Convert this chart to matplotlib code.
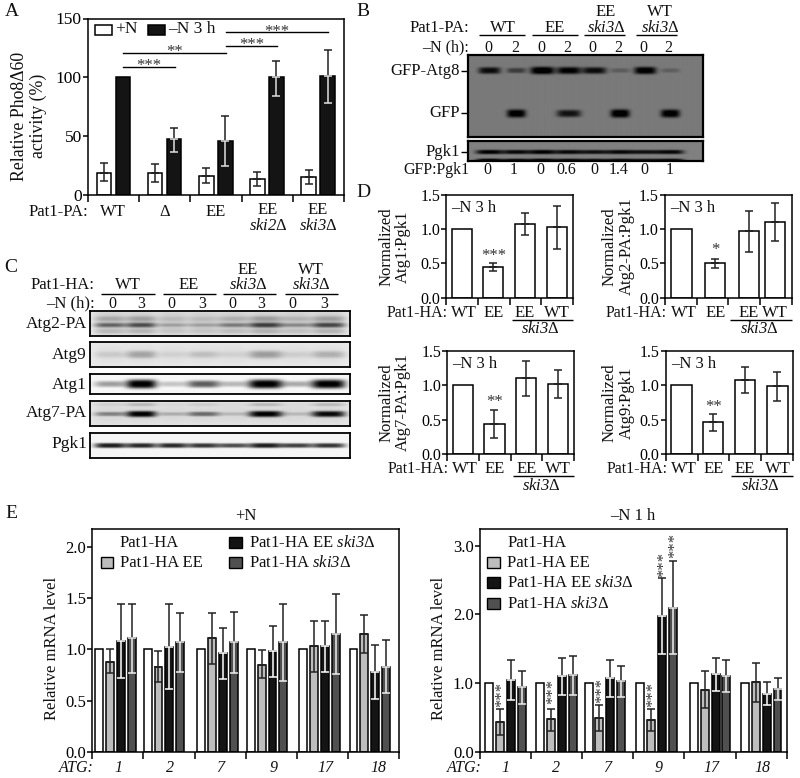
import numpy as np
import matplotlib
matplotlib.use('Agg')
import matplotlib.pyplot as plt
from matplotlib.patches import Rectangle

plt.rcParams['font.family'] = ['Liberation Serif', 'DejaVu Sans']
plt.rcParams['mathtext.fontset'] = 'custom'
plt.rcParams['mathtext.rm'] = 'Liberation Serif:italic'
plt.rcParams['mathtext.it'] = 'Liberation Serif:italic'
plt.rcParams['axes.linewidth'] = 1.1

SKI3 = r'$\mathrm{ski3}$Δ'
SKI2 = r'$\mathrm{ski2}$Δ'
DARK = '#222222'
STAR = '#333333'

# panel A
a_labels = ['WT', 'Δ', 'EE', 'EE\n' + SKI2, 'EE\n' + SKI3]
a_plus = [19, 19, 16.4, 13.8, 15]
a_plus_hi = [26.8, 26, 22.6, 19.2, 21]
a_plus_lo = [11.6, 11, 10, 7.9, 9.6]
a_minus = [100, 47.5, 46.3, 100.3, 101.4]
a_minus_hi = [100, 57, 67.2, 113.8, 123.4]
a_minus_lo = [100, 36.4, 24.9, 84.5, 78.2]

# panel D, one set per blot quantification
d_labels = ['WT', 'EE', 'EE', 'WT']
d_atg1 = [1.0, 0.45, 1.08, 1.03]
d_atg1_hi = [1.0, 0.50, 1.24, 1.34]
d_atg1_lo = [1.0, 0.39, 0.92, 0.71]
d_atg2 = [1.0, 0.50, 0.97, 1.11]
d_atg2_hi = [1.0, 0.57, 1.27, 1.39]
d_atg2_lo = [1.0, 0.43, 0.67, 0.83]
d_atg7 = [1.0, 0.44, 1.10, 1.02]
d_atg7_hi = [1.0, 0.64, 1.36, 1.23]
d_atg7_lo = [1.0, 0.24, 0.85, 0.81]
d_atg9 = [1.0, 0.46, 1.08, 0.99]
d_atg9_hi = [1.0, 0.58, 1.26, 1.19]
d_atg9_lo = [1.0, 0.33, 0.89, 0.77]

# panel E, columns are ATG genes
atg_genes = ['1', '2', '7', '9', '17', '18']
e_wt = [1.0, 1.0, 1.0, 1.0, 1.0, 1.0]
e_n_ee = [0.88, 0.83, 1.11, 0.85, 1.03, 1.15]
e_n_ee_hi = [1.00, 0.98, 1.36, 0.99, 1.28, 1.34]
e_n_ee_lo = [0.77, 0.68, 0.86, 0.72, 0.78, 0.96]
e_n_eeski = [1.08, 1.02, 0.96, 0.98, 1.03, 0.78]
e_n_eeski_hi = [1.44, 1.44, 1.21, 1.23, 1.28, 1.04]
e_n_eeski_lo = [0.72, 0.61, 0.71, 0.73, 0.78, 0.52]
e_n_ski = [1.11, 1.07, 1.07, 1.07, 1.15, 0.83]
e_n_ski_hi = [1.44, 1.36, 1.37, 1.44, 1.54, 1.09]
e_n_ski_lo = [0.77, 0.78, 0.77, 0.69, 0.76, 0.57]

e_s_ee = [0.44, 0.47, 0.49, 0.46, 0.90, 1.01]
e_s_ee_hi = [0.62, 0.62, 0.68, 0.62, 1.18, 1.29]
e_s_ee_lo = [0.25, 0.30, 0.30, 0.30, 0.63, 0.72]
e_s_eeski = [1.05, 1.10, 1.08, 1.98, 1.13, 0.84]
e_s_eeski_hi = [1.33, 1.37, 1.34, 2.53, 1.36, 1.01]
e_s_eeski_lo = [0.75, 0.83, 0.80, 1.43, 0.88, 0.68]
e_s_ski = [0.94, 1.12, 1.03, 2.10, 1.10, 0.92]
e_s_ski_hi = [1.18, 1.40, 1.25, 2.78, 1.33, 1.07]
e_s_ski_lo = [0.69, 0.82, 0.80, 1.42, 0.87, 0.76]

# blot band strengths per lane, 0 nothing, 1 saturated
b_atg8 = [0.80, 0.45, 1.0, 0.9, 0.8, 0.22, 0.95, 0.2]
b_gfp = [0, 0.95, 0, 0.75, 0, 1.0, 0, 0.95]
b_pgk1 = [0.85, 0.8, 0.85, 0.8, 0.75, 0.8, 0.75, 0.8]
b_ratio = ['0', '1', '0', '0.6', '0', '1.4', '0', '1']
c_atg2 = [0.70, 0.85, 0.30, 0.30, 0.55, 0.95, 0.45, 0.90]
c_atg9 = [0.15, 0.40, 0.10, 0.22, 0.10, 0.45, 0.12, 0.32]
c_atg1 = [0.35, 1.0, 0.2, 0.6, 0.25, 1.0, 0.3, 1.0]
c_atg7 = [0.40, 1.0, 0.2, 0.5, 0.15, 1.0, 0.15, 0.95]
c_pgk1 = [0.9, 0.85, 0.85, 0.8, 0.7, 0.9, 0.75, 0.8]

fig = plt.figure(figsize=(8, 7.78), dpi=100)


def box(l, t, r, b, **kw):
    return fig.add_axes([l / 800, 1 - b / 778, (r - l) / 800, (b - t) / 778], **kw)


def bar_err(ax, x, val, hi, lo, color, w, lowcolor=DARK):
    ax.bar(x, val, w, color=color, edgecolor='k', linewidth=1.1, zorder=2)
    for xi, v, h, l in zip(x, val, hi, lo):
        if h > v:
            ax.errorbar(xi, v, yerr=[[0], [h - v]], color=DARK, capsize=2.6,
                        elinewidth=1.1, capthick=1.1, zorder=3)
        if l < v:
            ax.errorbar(xi, v, yerr=[[v - l], [0]], color=lowcolor, capsize=2.6,
                        elinewidth=1.1, capthick=1.1, zorder=3)


def style(ax, n, ylim, yticks, fmt, size, xlen=5.0):
    ax.set_xlim(0, n)
    ax.set_ylim(*ylim)
    ax.set_yticks(yticks)
    ax.set_yticklabels([fmt % t for t in yticks], fontsize=size)
    ax.set_xticks(range(n + 1))
    ax.set_xticklabels([])
    ax.tick_params(axis='y', length=3.5, width=1.1, pad=1)
    ax.tick_params(axis='x', length=xlen, width=1.1)
    ax.patch.set_alpha(0)


def stars(ax, x, y, s='***', rot=0):
    ax.text(x, y, s, ha='center', va='center', fontsize=12, color=STAR,
            rotation=rot, rotation_mode='anchor', zorder=4)


# A
ax = box(88, 18.5, 344, 195)
n = len(a_plus)
x = np.arange(n)
bar_err(ax, x + 0.31, a_plus, a_plus_hi, a_plus_lo, 'white', 0.285)
bar_err(ax, x + 0.68, a_minus, a_minus_hi, a_minus_lo, '#141414', 0.285, lowcolor='#e0e0e0')
style(ax, n, (0, 150), [0, 50, 100, 150], '%d', 12.5)
for x0, x1, yy, s in [(0.69, 1.70, 108.8, '***'), (0.69, 2.69, 121, '**'),
                      (2.69, 3.69, 127, '***'), (2.69, 4.69, 138.4, '***')]:
    ax.plot([x0, x1], [yy, yy], color='k', lw=1.0)
    stars(ax, (x0 + x1) / 2 if s != '**' else 1.7, yy + 0.5, s)

# D
d_sets = [
    ((446.3, 195, 572.7, 297.7), d_atg1, d_atg1_hi, d_atg1_lo, [0.487, 0.49, 0.49, 0.50], 'Atg1:Pgk1', 0.61, '***', 394),
    ((665, 195, 791.7, 297.7), d_atg2, d_atg2_hi, d_atg2_lo, [0.52, 0.59, 0.64, 0.47], 'Atg2-PA:Pgk1', 0.69, '*', 618),
    ((447.3, 351, 574, 454), d_atg7, d_atg7_hi, d_atg7_lo, [0.49, 0.49, 0.49, 0.49], 'Atg7-PA:Pgk1', 0.76, '**', 394),
    ((666, 351, 792.7, 454), d_atg9, d_atg9_hi, d_atg9_lo, [0.49, 0.49, 0.49, 0.52], 'Atg9:Pgk1', 0.68, '**', 618),
]
d_axes = []
for pos, val, hi, lo, off, name, sy, s, lx in d_sets:
    ax = box(*pos)
    bar_err(ax, np.arange(4) + np.array(off), val, hi, lo, 'white', 0.635)
    style(ax, 4, (0, 1.5), [0, 0.5, 1.0, 1.5], '%.1f', 11.5)
    stars(ax, 1 + off[1], sy, s)
    d_axes.append((pos, off, name, lx))

# E
e_sets = [
    ((92.3, 528.7, 399, 751.7), (0, 2.18), [0, 0.5, 1.0, 1.5, 2.0],
     e_n_ee, e_n_ee_hi, e_n_ee_lo, e_n_eeski, e_n_eeski_hi, e_n_eeski_lo,
     e_n_ski, e_n_ski_hi, e_n_ski_lo, [0.137, 0.082, 0.127, 0.101, 0.13, 0.11]),
    ((480, 528.7, 786.7, 751.7), (0, 3.25), [0, 1.0, 2.0, 3.0],
     e_s_ee, e_s_ee_hi, e_s_ee_lo, e_s_eeski, e_s_eeski_hi, e_s_eeski_lo,
     e_s_ski, e_s_ski_hi, e_s_ski_lo, [0.176, 0.176, 0.124, 0.13, 0.183, 0.183]),
]
GREY = '#bdbdbd'
BLACK = '#141414'
SLATE = '#505050'
e_axes = []
for pos, yl, yt, g, gh, gl, k, kh, kl, s, sh, sl, shift in e_sets:
    ax = box(*pos)
    x = np.arange(6) + np.array(shift)
    w = 0.155
    step = 0.2125
    bar_err(ax, x, e_wt, e_wt, e_wt, 'white', w)
    bar_err(ax, x + step, g, gh, gl, GREY, w)
    bar_err(ax, x + 2 * step, k, kh, kl, BLACK, w, lowcolor='white')
    bar_err(ax, x + 3 * step, s, sh, sl, SLATE, w, lowcolor='#eeeeee')
    style(ax, 6, yl, yt, '%.1f', 12)
    e_axes.append((ax, x, step))

ax, x, step = e_axes[1]
for i in range(4):
    stars(ax, x[i] + step + 0.05, [0.83, 0.88, 0.89, 0.83][i], '***', 90)
stars(ax, x[3] + 2 * step + 0.05, 2.73, '***', 90)
stars(ax, x[3] + 3 * step + 0.05, 3.0, '***', 90)


# blots, drawn from the lane strengths
def lane_img(w, h, bg, lanes, widths, rows):
    img = np.full((h, w), float(bg))
    xx = np.arange(w)[None, :]
    yy = np.arange(h)[:, None]
    for strengths, yc, th, depth in rows:
        for c, lw_, st in zip(lanes, widths, strengths):
            prof_x = np.exp(-np.abs((xx - c) / (lw_ / 2.0)) ** 4)
            prof_y = np.exp(-np.abs((yy - yc) / (th * (0.55 + 0.55 * st))) ** 3)
            img -= depth * st * prof_x * prof_y
    return np.clip(img, 0, 255)


def blot(l, t, r, b, bg, lanes, widths, rows, lw=1.3):
    ax = box(l, t, r, b)
    w, h = int(round(r - l)), int(round(b - t))
    lanes2 = [c - l for c in lanes]
    ax.imshow(lane_img(w, h, bg, lanes2, widths, rows), cmap='gray', vmin=0, vmax=255,
              aspect='auto', interpolation='bilinear')
    ax.set_xticks([])
    ax.set_yticks([])
    for sp in ax.spines.values():
        sp.set_linewidth(lw)


lanes_b = [489, 515.7, 541.7, 568, 593.3, 619, 644, 669]
widths_b = [22, 19, 24, 24, 24, 19, 22, 19]
blot(468, 55, 702.5, 137, 122, lanes_b, widths_b,
     [(b_atg8, 15, 3.4, 140), (b_gfp, 58, 3.8, 140)], lw=1.6)
blot(468, 141, 702.5, 161, 128, lanes_b, [27] * 8,
     [(b_pgk1, 10.5, 2.2, 150), (b_pgk1, 19, 2.0, 150)], lw=1.6)

lanes_c = [110, 141, 172, 203, 233, 265, 296, 328]
widths_c = [32, 30, 30, 32, 30, 34, 30, 34]
blot(90, 310.7, 350, 336, 232, lanes_c, widths_c,
     [(c_atg2, 14, 2.2, 150), ([0.6] * 8, 12, 14, 55), ([v * 0.6 for v in c_atg2], 8, 3, 80),
      ([v * 0.4 for v in c_atg2], 20, 3, 80)])
blot(90, 342, 350, 367, 235, lanes_c, widths_c, [(c_atg9, 12.5, 4.5, 150), ([0.3] * 8, 12, 14, 40)])
blot(90, 373.7, 350, 394, 248, lanes_c, widths_c, [(c_atg1, 10, 3.8, 260)])
blot(90, 400.7, 350, 425.7, 228, lanes_c, widths_c,
     [(c_atg7, 12.5, 2.8, 220), ([v * 0.3 for v in c_atg7], 3, 2.5, 130), ([0.3] * 8, 12, 14, 40)])
blot(90, 433, 350, 458, 245, lanes_c, widths_c, [(c_pgk1, 12, 2.4, 240)])

# overlay in picture pixels for the labels
ov = fig.add_axes([0, 0, 1, 1], zorder=10)
ov.set_xlim(0, 800)
ov.set_ylim(778, 0)
ov.axis('off')


def T(x, y, s, size=12, ha='center', va='center', **kw):
    ov.text(x, y, s, fontsize=size, ha=ha, va=va, color='#111111', linespacing=kw.pop('ls', 0.95), **kw)


def L(x0, x1, y, lw=1.0):
    ov.plot([x0, x1], [y, y], color='k', lw=lw, solid_capstyle='butt')


for lab, x_, y_ in [('A', 12, 11), ('B', 363, 11), ('C', 11, 267), ('D', 363, 192), ('E', 11, 513)]:
    T(x_, y_, lab, 14)

# A labels
T(88, 211.5, 'Pat1-PA:', 12, ha='right')
for xc, lab in zip([113, 165, 216, 268, 318], a_labels):
    T(xc, 211.5 if '\n' not in lab else 218, lab, 12)
T(29, 116, 'Relative Pho8Δ60\nactivity (%)', 12.8, rotation=90, ls=1.1)
ov.add_patch(Rectangle((94.5, 24.5), 17, 10, fc='white', ec='k', lw=1.1))
ov.add_patch(Rectangle((147.5, 24.5), 17, 10, fc=BLACK, ec='k', lw=1.1))
T(115, 29, '+N', 12.5, ha='left')
T(168, 29, '–N 3 h', 12.5, ha='left')

# B labels
T(469, 28, 'Pat1-PA:', 12, ha='right')
T(469, 47.5, '–N (h):', 11.5, ha='right')
for xc, x0, x1, lab in [(503, 479, 525, 'WT'), (555, 532, 578, 'EE'),
                        (606, 584, 625, 'EE\n' + SKI3), (660, 636, 677, 'WT\n' + SKI3)]:
    T(xc, 28 if '\n' not in lab else 20, lab, 12)
    L(x0, x1, 35)
for xc, s in zip(lanes_b, ['0', '2'] * 4):
    T(xc - 0.5, 47.5, s, 11.5)
T(460, 71, 'GFP-Atg8', 12, ha='right')
T(460, 112.5, 'GFP', 12, ha='right')
T(460, 151.5, 'Pgk1', 12, ha='right')
L(461, 468, 71)
L(461, 468, 112.5)
L(461, 468, 151.5)
T(469, 170, 'GFP:Pgk1', 11.5, ha='right')
for xc, s in zip([487, 514, 540, 566, 594, 619, 644, 670], b_ratio):
    T(xc, 170, s, 11.5)

# C labels
T(95, 284.5, 'Pat1-HA:', 12, ha='right')
T(95, 303.5, '–N (h):', 12, ha='right')
for xc, x0, x1, lab in [(128, 101, 154.5, 'WT'), (189, 162.5, 216, 'EE'),
                        (248, 222.5, 275.5, 'EE\n' + SKI3), (311, 284.5, 337.5, 'WT\n' + SKI3)]:
    T(xc, 284.5 if '\n' not in lab else 277.5, lab, 12)
    L(x0, x1, 293.5)
for xc, s in zip([112, 141, 171.7, 202, 232.3, 261.3, 292.3, 324], ['0', '3'] * 4):
    T(xc, 303.5, s, 11.5)
for yc, lab in zip([324, 355, 385, 413, 444], ['Atg2-PA', 'Atg9', 'Atg1', 'Atg7-PA', 'Pgk1']):
    T(87, yc, lab, 12.5, ha='right')

# D labels
for (l, t, r, b), off, name, lx in d_axes:
    unit = (r - l) / 4
    T(lx + (1 if lx < 500 else 0), (t + b) / 2, 'Normalized\n' + name, 12, rotation=90,
      ls=1.0 if lx < 500 else 1.15)
    T(l + 5, t + 12.5, '–N 3 h', 12, ha='left')
    T(l + 1.5, b + 15, 'Pat1-HA:', 11.5, ha='right')
    for i, lab in enumerate(d_labels):
        T(l + (i + off[i]) * unit + (2 if i == 0 else 0), b + 15, lab, 12)
    L(l + 2 * unit + 2, r, b + 22)
    T(l + 3 * unit - 0.5, b + 31.5, SKI3, 12)

# E labels
T(245.7, 516, '+N', 12)
T(633, 516, '–N 1 h', 12)
T(51.7, 648, 'Relative mRNA level', 12, rotation=90)
T(439, 648, 'Relative mRNA level', 12, rotation=90)
T(94, 767.5, 'ATG:', 11.5, ha='right', style='italic')
T(481.7, 767.5, 'ATG:', 11.5, ha='right', style='italic')
for xc, xr, s in zip([118, 170, 220, 274, 325, 378], [505, 556, 607, 659, 711, 762], atg_genes):
    T(xc, 767.5, s, 11.5, style='italic')
    T(xr, 767.5, s, 11.5, style='italic')

T(120, 542.7, 'Pat1-HA', 12, ha='left')
T(120, 562.7, 'Pat1-HA EE', 12, ha='left')
T(249.3, 542.7, 'Pat1-HA EE ' + SKI3, 12, ha='left')
T(249.3, 562.7, 'Pat1-HA ' + SKI3, 12, ha='left')
ov.add_patch(Rectangle((100.7, 556.5), 12.6, 11, fc=GREY, ec='k', lw=1.0))
ov.add_patch(Rectangle((229, 536.7), 12.6, 11, fc=BLACK, ec='k', lw=1.0))
ov.add_patch(Rectangle((229, 556.5), 12.6, 11, fc=SLATE, ec='k', lw=1.0))

T(507.3, 542.7, 'Pat1-HA', 12, ha='left')
T(507.3, 562.7, 'Pat1-HA EE', 12, ha='left')
T(507.3, 583.3, 'Pat1-HA EE ' + SKI3, 12, ha='left')
T(507.3, 604, 'Pat1-HA ' + SKI3, 12, ha='left')
ov.add_patch(Rectangle((487.3, 556.5), 12.6, 11, fc=GREY, ec='k', lw=1.0))
ov.add_patch(Rectangle((487.3, 577), 12.6, 11, fc=BLACK, ec='k', lw=1.0))
ov.add_patch(Rectangle((487.3, 597.7), 12.6, 11, fc=SLATE, ec='k', lw=1.0))

fig.savefig('out.png', dpi=100)
